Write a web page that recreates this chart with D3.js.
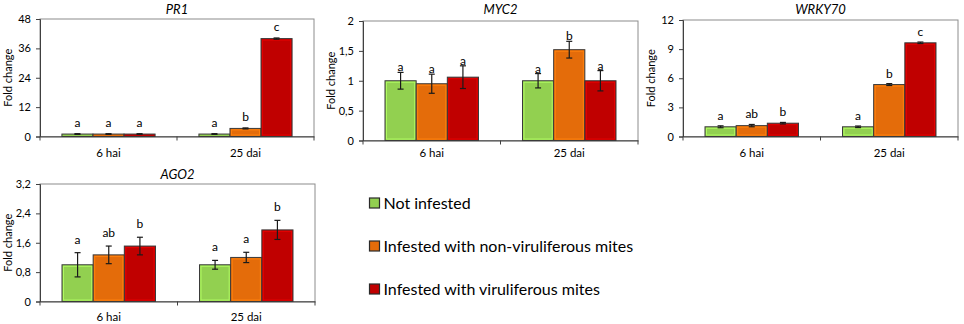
<!DOCTYPE html>
<html>
<head>
<meta charset="utf-8">
<script src="https://cdn.jsdelivr.net/npm/d3@7"></script>
<style>
  html, body { margin: 0; padding: 0; background: #fff; }
  svg { display: block; font-family: Lato, "Liberation Sans", sans-serif; }
</style>
</head>
<body>
<svg id="chart" width="964" height="324"></svg>
<script>
// ---------------- DATA ----------------
const groups = ["6 hai", "25 dai"];
const seriesNames = ["Not infested", "Infested with non-viruliferous mites", "Infested with viruliferous mites"];
const seriesColors = ["#92d050", "#e46c0a", "#c00000"];
const geneNames = ["PR1", "MYC2", "WRKY70", "AGO2"];

// values indexed [group][series]
const pr1Means   = [[1.0, 1.0, 1.0], [1.0, 3.3, 40.0]];
const pr1Errors  = [[0.15, 0.15, 0.15], [0.15, 0.2, 0.25]];
const pr1Letters = [["a", "a", "a"], ["a", "b", "c"]];
const pr1Ticks   = [0, 12, 24, 36, 48];
const pr1TickLabels = ["0", "12", "24", "36", "48"];

const myc2Means   = [[1.0, 0.95, 1.06], [1.0, 1.52, 1.0]];
const myc2Errors  = [[0.14, 0.16, 0.19], [0.12, 0.14, 0.17]];
const myc2Letters = [["a", "a", "a"], ["a", "b", "a"]];
const myc2Ticks   = [0, 0.5, 1, 1.5, 2];
const myc2TickLabels = ["0", "0,5", "1", "1,5", "2"];

const wrky70Means   = [[1.0, 1.12, 1.37], [1.0, 5.35, 9.65]];
const wrky70Errors  = [[0.1, 0.12, 0.08], [0.08, 0.1, 0.08]];
const wrky70Letters = [["a", "ab", "b"], ["a", "b", "c"]];
const wrky70Ticks   = [0, 3, 6, 9, 12];
const wrky70TickLabels = ["0", "3", "6", "9", "12"];

const ago2Means   = [[1.0, 1.27, 1.51], [1.0, 1.2, 1.95]];
const ago2Errors  = [[0.33, 0.24, 0.24], [0.12, 0.14, 0.26]];
const ago2Letters = [["a", "ab", "b"], ["a", "a", "b"]];
const ago2Ticks   = [0, 0.8, 1.6, 2.4, 3.2];
const ago2TickLabels = ["0", "0,8", "1,6", "2,4", "3,2"];

const yAxisTitle = "Fold change";

// ---------------- LAYOUT ----------------
const panels = [
  { name: geneNames[0], means: pr1Means, errors: pr1Errors, letters: pr1Letters, ticks: pr1Ticks, tickLabels: pr1TickLabels,
    left: 40, top: 19, right: 314, bottom: 136.5, titleY: 14, xLabelY: 157, letterGap: 7 },
  { name: geneNames[1], means: myc2Means, errors: myc2Errors, letters: myc2Letters, ticks: myc2Ticks, tickLabels: myc2TickLabels,
    left: 363, top: 21, right: 638, bottom: 140.5, titleY: 14, xLabelY: 157, letterGap: 1 },
  { name: geneNames[2], means: wrky70Means, errors: wrky70Errors, letters: wrky70Letters, ticks: wrky70Ticks, tickLabels: wrky70TickLabels,
    left: 683, top: 20, right: 958, bottom: 136.5, titleY: 14, xLabelY: 157, letterGap: 6 },
  { name: geneNames[3], means: ago2Means, errors: ago2Errors, letters: ago2Letters, ticks: ago2Ticks, tickLabels: ago2TickLabels,
    left: 40, top: 184, right: 315, bottom: 301.5, titleY: 178.5, xLabelY: 320.5, letterGap: 9 }
];

const svg = d3.select("#chart");

panels.forEach(p => {
  const g = svg.append("g");
  const yMax = p.ticks[p.ticks.length - 1];
  const y = d3.scaleLinear().domain([0, yMax]).range([p.bottom, p.top]);
  const x = d3.scaleBand().domain(groups).range([p.left, p.right]).padding(0);
  const gw = x.bandwidth() * 0.68;
  const xs = d3.scaleBand().domain(d3.range(seriesNames.length)).range([0, gw]).padding(0);

  // plot frame
  g.append("rect")
    .attr("x", p.left).attr("y", p.top)
    .attr("width", p.right - p.left).attr("height", p.bottom - p.top)
    .attr("fill", "none").attr("stroke", "#8c8c8c").attr("stroke-width", 1);

  // y axis
  const yAxis = d3.axisLeft(y).tickValues(p.ticks)
    .tickFormat((d, i) => p.tickLabels[i]).tickSize(4).tickPadding(5);
  const ya = g.append("g").attr("transform", `translate(${p.left},0)`).call(yAxis);
  ya.select(".domain").attr("stroke", "#404040");
  ya.selectAll(".tick line").attr("stroke", "#404040");
  ya.selectAll(".tick text").attr("font-size", 11).attr("fill", "#000")
    .attr("font-family", "Lato, 'Liberation Sans', sans-serif");

  // x axis
  const xAxis = d3.axisBottom(x).tickSize(0).tickPadding(0).tickFormat("");
  const xa = g.append("g").attr("transform", `translate(0,${p.bottom})`).call(xAxis);
  xa.select(".domain").attr("stroke", "#404040");
  const edges = [p.left].concat(groups.map(gn => x(gn) + x.bandwidth()));
  g.selectAll(".xedge").data(edges).enter().append("line")
    .attr("x1", d => d).attr("x2", d => d)
    .attr("y1", p.bottom).attr("y2", p.bottom + 4)
    .attr("stroke", "#404040");
  g.selectAll(".xlab").data(groups).enter().append("text")
    .attr("x", d => x(d) + x.bandwidth() / 2).attr("y", p.xLabelY)
    .attr("text-anchor", "middle").attr("font-size", 11.5).text(d => d);

  // bars
  const flat = [];
  groups.forEach((gn, gi) => {
    seriesNames.forEach((sn, si) => {
      flat.push({ gn, si, v: p.means[gi][si], e: p.errors[gi][si], l: p.letters[gi][si] });
    });
  });
  const bx = d => x(d.gn) + (x.bandwidth() - gw) / 2 + xs(d.si);
  g.selectAll(".bar").data(flat).enter().append("rect")
    .attr("x", bx).attr("y", d => y(d.v))
    .attr("width", xs.bandwidth()).attr("height", d => p.bottom - y(d.v))
    .attr("fill", d => seriesColors[d.si])
    .attr("stroke", "#3a3a3a").attr("stroke-width", 1);
  g.selectAll(".barin").data(flat.filter(d => p.bottom - y(d.v) > 4)).enter().append("rect")
    .attr("x", d => bx(d) + 1.5).attr("y", d => y(d.v) + 1.5)
    .attr("width", xs.bandwidth() - 3).attr("height", d => p.bottom - y(d.v) - 3)
    .attr("fill", "none")
    .attr("stroke", d => d3.color(seriesColors[d.si]).brighter(0.5))
    .attr("stroke-width", 1);

  // error bars
  const cx = d => bx(d) + xs.bandwidth() / 2;
  const eg = g.selectAll(".err").data(flat).enter().append("g").attr("stroke", "#1a1a1a").attr("stroke-width", 1.2);
  eg.append("line").attr("x1", cx).attr("x2", cx).attr("y1", d => y(d.v + d.e)).attr("y2", d => y(d.v - d.e));
  eg.append("line").attr("x1", d => cx(d) - 3).attr("x2", d => cx(d) + 3).attr("y1", d => y(d.v + d.e)).attr("y2", d => y(d.v + d.e));
  eg.append("line").attr("x1", d => cx(d) - 3).attr("x2", d => cx(d) + 3).attr("y1", d => y(d.v - d.e)).attr("y2", d => y(d.v - d.e));

  // letters
  g.selectAll(".letter").data(flat).enter().append("text")
    .attr("x", cx).attr("y", d => y(d.v + d.e) - p.letterGap)
    .attr("text-anchor", "middle").attr("font-size", 12).text(d => d.l);

  // title
  g.append("text").attr("x", (p.left + p.right) / 2).attr("y", p.titleY)
    .attr("text-anchor", "middle").attr("font-size", 13).attr("font-style", "italic").text(p.name);

  // y title
  g.append("text")
    .attr("transform", `translate(${p.left - 28},${(p.top + p.bottom) / 2}) rotate(-90)`)
    .attr("text-anchor", "middle").attr("font-size", 11).text(yAxisTitle);
});

// legend
const legendX = 369.5, legendY0 = 203, legendStep = 43;
const lg = svg.append("g");
seriesNames.forEach((sn, i) => {
  const yy = legendY0 + i * legendStep;
  lg.append("rect").attr("x", legendX).attr("y", yy - 5).attr("width", 10).attr("height", 10)
    .attr("fill", seriesColors[i]).attr("stroke", "#2a2a2a").attr("stroke-width", 1.2);
  lg.append("text").attr("x", legendX + 14).attr("y", yy).attr("dy", "0.36em")
    .attr("font-size", 16).text(sn);
});
</script>
</body>
</html>
